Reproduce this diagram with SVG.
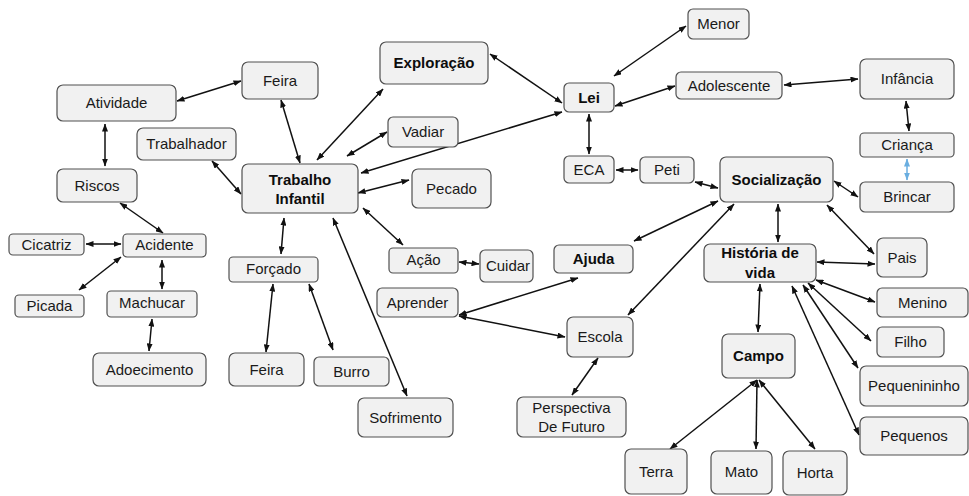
<svg xmlns="http://www.w3.org/2000/svg" width="969" height="496" viewBox="0 0 969 496">
<defs>
<style>
.n rect{fill:#f1f1f1;stroke:#505050;stroke-width:1.2}
.n text{font-family:"Liberation Sans",Arial,sans-serif;font-size:15px;fill:#1a1a1a;text-anchor:middle}
.n text.b{font-weight:bold;fill:#0d0d0d}
.e line{stroke:#111;stroke-width:1.5;marker-start:url(#a);marker-end:url(#a)}
.e line.blue{stroke:#6aaee0;marker-start:url(#ab);marker-end:url(#ab)}
</style>
<marker id="a" viewBox="0 0 8 6" refX="7.5" refY="3" markerWidth="8" markerHeight="6" markerUnits="userSpaceOnUse" orient="auto-start-reverse"><path d="M0,0 L8,3 L0,6 z" fill="#111"/></marker>
<marker id="ab" viewBox="0 0 8 6" refX="7.5" refY="3" markerWidth="8" markerHeight="6" markerUnits="userSpaceOnUse" orient="auto-start-reverse"><path d="M0,0 L8,3 L0,6 z" fill="#6aaee0"/></marker>
</defs>
<rect width="969" height="496" fill="#fff"/>
<g id="connectors" class="e">
<line x1="177" y1="101" x2="241" y2="81"/>
<line x1="281" y1="100" x2="300" y2="163"/>
<line x1="105" y1="124" x2="105" y2="166"/>
<line x1="212" y1="161" x2="241" y2="194"/>
<line x1="120" y1="203" x2="163" y2="233"/>
<line x1="317" y1="160" x2="383" y2="89"/>
<line x1="347" y1="156" x2="387" y2="132"/>
<line x1="361" y1="173" x2="562" y2="112"/>
<line x1="490" y1="54" x2="562" y2="103"/>
<line x1="358" y1="193" x2="409" y2="180"/>
<line x1="363" y1="208" x2="403" y2="245"/>
<line x1="333" y1="218" x2="407" y2="396"/>
<line x1="284" y1="218" x2="281" y2="254"/>
<line x1="273" y1="284" x2="266" y2="352"/>
<line x1="309" y1="284" x2="333" y2="350"/>
<line x1="86" y1="244" x2="121" y2="244"/>
<line x1="121" y1="257" x2="79" y2="290"/>
<line x1="162" y1="260" x2="162" y2="289"/>
<line x1="152" y1="319" x2="149" y2="351"/>
<line x1="614" y1="76" x2="686" y2="26"/>
<line x1="615" y1="106" x2="675" y2="86"/>
<line x1="784" y1="85" x2="858" y2="79"/>
<line x1="589" y1="114" x2="589" y2="154"/>
<line x1="616" y1="170" x2="638" y2="170"/>
<line x1="695" y1="182" x2="718" y2="188"/>
<line x1="906" y1="101" x2="909" y2="131"/>
<line class="blue" x1="907" y1="159" x2="907" y2="180"/>
<line x1="834" y1="181" x2="858" y2="197"/>
<line x1="778" y1="204" x2="778" y2="242"/>
<line x1="827" y1="205" x2="874" y2="254"/>
<line x1="634" y1="241" x2="718" y2="201"/>
<line x1="734" y1="204" x2="628" y2="315"/>
<line x1="578" y1="278" x2="459" y2="315"/>
<line x1="459" y1="316" x2="565" y2="337"/>
<line x1="598" y1="358" x2="572" y2="395"/>
<line x1="459" y1="262" x2="479" y2="264"/>
<line x1="817" y1="262" x2="875" y2="264"/>
<line x1="816" y1="280" x2="875" y2="302"/>
<line x1="808" y1="283" x2="871" y2="341"/>
<line x1="803" y1="285" x2="858" y2="368"/>
<line x1="792" y1="286" x2="859" y2="435"/>
<line x1="760" y1="284" x2="758" y2="332"/>
<line x1="757" y1="380" x2="670" y2="449"/>
<line x1="757" y1="380" x2="756" y2="449"/>
<line x1="759" y1="380" x2="815" y2="449"/>
</g>
<g id="n-feira1" class="n"><rect x="242" y="62" width="76" height="37" rx="6"/><text x="280" y="86">Feira</text></g>
<g id="n-atividade" class="n"><rect x="57" y="85" width="119" height="36" rx="6"/><text x="116.5" y="108">Atividade</text></g>
<g id="n-trabalhador" class="n"><rect x="137" y="128" width="99" height="32" rx="6"/><text x="186.5" y="149">Trabalhador</text></g>
<g id="n-riscos" class="n"><rect x="57" y="169" width="80" height="33" rx="6"/><text x="97" y="191">Riscos</text></g>
<g id="n-trabalho" class="n"><rect x="242" y="164" width="116" height="49" rx="6"/><text class="b" x="300" y="185">Trabalho</text><text class="b" x="300" y="204">Infantil</text></g>
<g id="n-cicatriz" class="n"><rect x="9" y="234" width="75" height="21" rx="4"/><text x="46.5" y="250">Cicatriz</text></g>
<g id="n-acidente" class="n"><rect x="123" y="234" width="83" height="23" rx="4"/><text x="164.5" y="250">Acidente</text></g>
<g id="n-exploracao" class="n"><rect x="380" y="42" width="108" height="42" rx="6"/><text class="b" x="434" y="68">Exploração</text></g>
<g id="n-lei" class="n"><rect x="564" y="83" width="50" height="29" rx="5"/><text class="b" x="589" y="103">Lei</text></g>
<g id="n-vadiar" class="n"><rect x="388" y="117" width="70" height="30" rx="5"/><text x="423" y="137">Vadiar</text></g>
<g id="n-pecado" class="n"><rect x="412" y="169" width="79" height="39" rx="6"/><text x="451.5" y="194">Pecado</text></g>
<g id="n-eca" class="n"><rect x="564" y="156" width="50" height="27" rx="5"/><text x="589" y="175">ECA</text></g>
<g id="n-peti" class="n"><rect x="640" y="157" width="54" height="26" rx="5"/><text x="667" y="175">Peti</text></g>
<g id="n-menor" class="n"><rect x="688" y="9" width="61" height="30" rx="5"/><text x="718.5" y="29">Menor</text></g>
<g id="n-adolescente" class="n"><rect x="676" y="72" width="106" height="27" rx="5"/><text x="729" y="91">Adolescente</text></g>
<g id="n-infancia" class="n"><rect x="860" y="59" width="94" height="40" rx="6"/><text x="907" y="84">Infância</text></g>
<g id="n-crianca" class="n"><rect x="860" y="133" width="94" height="24" rx="4"/><text x="907" y="150">Criança</text></g>
<g id="n-brincar" class="n"><rect x="860" y="182" width="94" height="30" rx="5"/><text x="907" y="202">Brincar</text></g>
<g id="n-socializacao" class="n"><rect x="720" y="157" width="113" height="45" rx="6"/><text class="b" x="776.5" y="185">Socialização</text></g>
<g id="n-pais" class="n"><rect x="877" y="238" width="50" height="39" rx="6"/><text x="902" y="263">Pais</text></g>
<g id="n-forcado" class="n"><rect x="229" y="257" width="89" height="25" rx="4"/><text x="273.5" y="274">Forçado</text></g>
<g id="n-picada" class="n"><rect x="15" y="295" width="69" height="22" rx="4"/><text x="49.5" y="311">Picada</text></g>
<g id="n-machucar" class="n"><rect x="107" y="291" width="90" height="26" rx="4"/><text x="152" y="308">Machucar</text></g>
<g id="n-adoecimento" class="n"><rect x="93" y="353" width="113" height="33" rx="6"/><text x="149.5" y="375">Adoecimento</text></g>
<g id="n-feira2" class="n"><rect x="229" y="353" width="75" height="33" rx="6"/><text x="266.5" y="375">Feira</text></g>
<g id="n-burro" class="n"><rect x="314" y="357" width="75" height="29" rx="5"/><text x="351.5" y="377">Burro</text></g>
<g id="n-acao" class="n"><rect x="389" y="248" width="69" height="25" rx="4"/><text x="423.5" y="265">Ação</text></g>
<g id="n-cuidar" class="n"><rect x="480" y="250" width="53" height="32" rx="5"/><text x="508" y="271">Cuidar</text></g>
<g id="n-ajuda" class="n"><rect x="554" y="245" width="79" height="28" rx="5"/><text class="b" x="593.5" y="264">Ajuda</text></g>
<g id="n-aprender" class="n"><rect x="377" y="288" width="81" height="29" rx="5"/><text x="417.5" y="308">Aprender</text></g>
<g id="n-escola" class="n"><rect x="567" y="317" width="66" height="40" rx="6"/><text x="600" y="342">Escola</text></g>
<g id="n-sofrimento" class="n"><rect x="358" y="398" width="95" height="39" rx="6"/><text x="405.5" y="423">Sofrimento</text></g>
<g id="n-perspectiva" class="n"><rect x="517" y="397" width="109" height="40" rx="6"/><text x="571.5" y="413">Perspectiva</text><text x="571.5" y="432">De Futuro</text></g>
<g id="n-terra" class="n"><rect x="625" y="449" width="62" height="45" rx="6"/><text x="656" y="477">Terra</text></g>
<g id="n-historia" class="n"><rect x="704" y="244" width="112" height="38" rx="6"/><text class="b" x="760" y="258">História de</text><text class="b" x="760" y="278">vida</text></g>
<g id="n-menino" class="n"><rect x="877" y="288" width="91" height="29" rx="5"/><text x="922.5" y="308">Menino</text></g>
<g id="n-filho" class="n"><rect x="877" y="327" width="67" height="30" rx="5"/><text x="910.5" y="347">Filho</text></g>
<g id="n-campo" class="n"><rect x="722" y="334" width="73" height="44" rx="6"/><text class="b" x="758.5" y="361">Campo</text></g>
<g id="n-pequenininho" class="n"><rect x="860" y="366" width="108" height="40" rx="6"/><text x="914" y="391">Pequenininho</text></g>
<g id="n-pequenos" class="n"><rect x="860" y="417" width="108" height="38" rx="6"/><text x="914" y="441">Pequenos</text></g>
<g id="n-mato" class="n"><rect x="711" y="451" width="61" height="43" rx="6"/><text x="741.5" y="477">Mato</text></g>
<g id="n-horta" class="n"><rect x="783" y="451" width="64" height="44" rx="6"/><text x="815" y="478">Horta</text></g>
</svg>
